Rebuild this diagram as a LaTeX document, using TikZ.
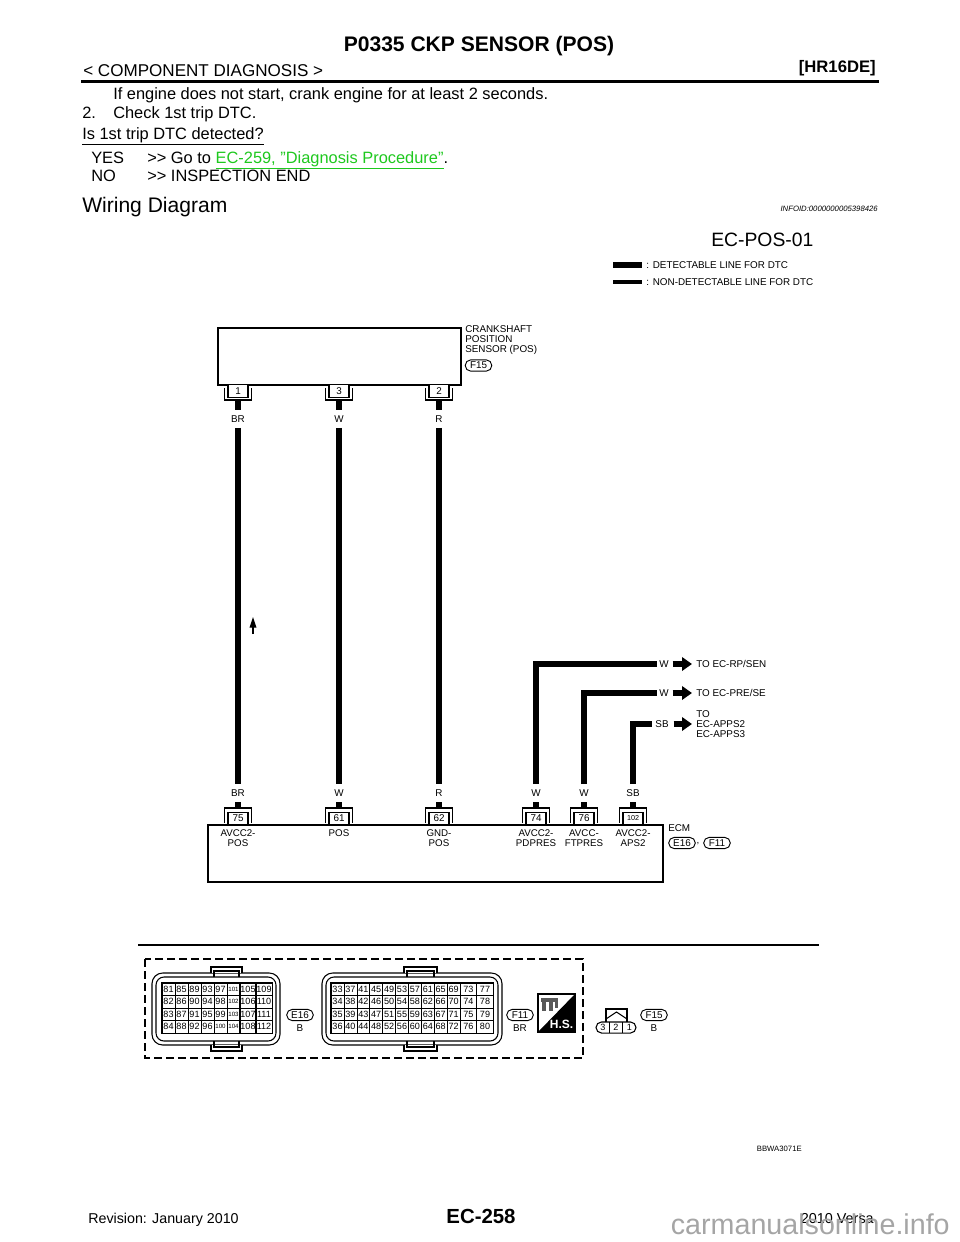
\documentclass[tikz,border=0pt]{standalone}
\usepackage{fontspec}
\setmainfont{Liberation Sans}
\usetikzlibrary{arrows.meta,shapes.misc}
\definecolor{linkgreen}{RGB}{30,200,30}
\definecolor{markgray}{RGB}{165,165,165}
\newcommand{\fsz}[1]{\fontsize{#1}{#1}\selectfont}
\tikzstyle{pagetext} = [anchor=base west, inner sep=0pt, font=\fsz{12.3}]
\tikzstyle{boxline} = [draw=black, line width=1.1pt]
\tikzstyle{wire} = [line width=5.1pt, draw=black]
\tikzstyle{bracket} = [line width=0.8pt, draw=black]
\tikzstyle{pinbox} = [draw=black, line width=0.8pt, fill=white, minimum width=15pt, minimum height=9.5pt, inner sep=0pt, font=\fsz{7.4}]
\tikzstyle{wirelabel} = [inner sep=0pt, minimum height=13pt, font=\fsz{7.4}]
\tikzstyle{difftext} = [align=left, anchor=west, inner sep=0pt, font=\fontsize{7.4}{7.5}\selectfont]
\tikzstyle{pintext} = [align=center, anchor=north, inner sep=0pt, font=\fontsize{7.3}{7.5}\selectfont]
\tikzstyle{tagbox} = [rounded rectangle, draw=black, line width=0.7pt, minimum width=20pt, minimum height=8.5pt, inner sep=0pt, font=\fsz{7.4}]
\tikzstyle{fatarrow} = [line width=3.8pt, -{Triangle[length=7.5pt,width=10pt]}]
\tikzstyle{narrowcell} = [draw=black, line width=0.5pt, minimum width=9.7pt, minimum height=9.4pt, inner sep=0pt, font=\fsz{6.8}]
\tikzstyle{widecell} = [narrowcell, minimum width=12.3pt]
\tikzstyle{shell} = [draw=black, line width=0.8pt]
\begin{document}
\begin{tikzpicture}[x=0.75pt, y=-0.75pt]
  \useasboundingbox (0,0) rectangle (960,1242);
  % page heading
  \node (title) [pagetext, anchor=base, font=\bfseries\fsz{15.8}] at (479,51) {P0335 CKP SENSOR (POS)};
  \node (chapter) [pagetext, font=\fsz{12.8}] at (83,76) {< COMPONENT DIAGNOSIS >};
  \node (engine) [pagetext, anchor=base east, font=\bfseries\fsz{12.5}] at (876,72) {[HR16DE]};
  \coordinate (ruleL) at (81,81.5);
  \coordinate (ruleR) at (879,81.5);
  \draw [line width=2pt] (ruleL) -- (ruleR);
  \node (step1) [pagetext] at (113,99) {If engine does not start, crank engine for at least 2 seconds.};
  \node (num2) [pagetext] at (82,118) {2.};
  \node (step2) [pagetext] at (113,118) {Check 1st trip DTC.};
  \node (quest) [pagetext] at (82,139) {\underline{Is 1st trip DTC detected?}};
  \node (yes) [pagetext] at (91,163) {YES};
  \node (yesgo) [pagetext] at (147,163) {>{}> Go to \textcolor{linkgreen}{\underline{EC-259, \symbol{34}Diagnosis Procedure\symbol{34}}}.};
  \node (no) [pagetext] at (91,181) {NO};
  \node (noend) [pagetext] at (147,181) {>{}> INSPECTION END};
  \node (wiring) [pagetext, font=\fsz{15.8}] at (82,212) {Wiring Diagram};
  \node (infoid) [pagetext, anchor=base east, font=\itshape\fsz{5.8}] at (878,211) {INFOID:0000000005398426};
  % legend
  \node (figno) [pagetext, font=\fsz{14.5}] at (711,246) {EC-POS-01};
  \node (legA) [pagetext, anchor=west, font=\fsz{7.4}, inner sep=3.5pt] at (641.5,265) {: DETECTABLE LINE FOR DTC};
  \node (legB) [pagetext, anchor=west, font=\fsz{7.4}, inner sep=3.5pt] at (641.5,282) {: NON-DETECTABLE LINE FOR DTC};
  \coordinate (legAs) at (613,265);
  \coordinate (legBs) at (613,282);
  \draw [line width=4pt] (legAs) -- (legA);
  \draw [line width=2.4pt] (legBs) -- (legB);
  % sensor
  \node (sensor) [boxline, minimum width=182pt, minimum height=42.7pt, inner sep=0pt] at (339.5,356.5) {};
  \node (sensorname) [difftext] at (465,340) {CRANKSHAFT\\POSITION\\SENSOR (POS)};
  \node (tagF15) [tagbox] at (478.5,365.5) {F15};
  \foreach \pinno/\px/\wname in {1/238/BR, 3/339/W, 2/439/R}{
    \draw [bracket] (\px-13.5,388) -- (\px-13.5,400) -- (\px+13.5,400) -- (\px+13.5,388);
    \node (s\pinno) [pinbox] at (\px,391) {\pinno};
    \coordinate (s\pinno b) at (\px,400);
    \node (t\pinno) [wirelabel] at (\px,419) {\wname};
    \draw [wire] (s\pinno b) -- (t\pinno);
  }
  % ECM
  \node (ecm) [boxline, minimum width=341pt, minimum height=43pt, inner sep=0pt] at (435.5,853.5) {};
  \foreach \pinno/\px/\wname/\pinname in {75/238/BR/{AVCC2-\\POS}, 61/339/W/{POS}, 62/439/R/{GND-\\POS}, 74/536/W/{AVCC2-\\PDPRES}, 76/584/W/{AVCC-\\FTPRES}, 102/633/SB/{AVCC2-\\APS2}}{
    \draw [bracket] (\px-13.5,823) -- (\px-13.5,808) -- (\px+13.5,808) -- (\px+13.5,823);
    \node (e\pinno) [pinbox] at (\px,818.5) {\ifnum\pinno>99 \fsz{5.4}\fi\pinno};
    \coordinate (e\pinno t) at (\px,808);
    \node (b\pinno) [wirelabel] at (\px,793) {\wname};
    \draw [wire] (e\pinno t) -- (b\pinno);
    \node (n\pinno) [pintext] at (\px,829) {\pinname};
  }
  \node (ecmname) [difftext] at (668,828) {ECM};
  \node (tagE16) [tagbox] at (682,843) {E16};
  \node (comma) [inner sep=0pt, font=\fsz{7.4}] at (698,844) {,};
  \node (tagF11) [tagbox] at (717,843) {F11};
  % vertical wires
  \draw [wire] (t1) -- (b75);
  \draw [wire] (t3) -- (b61);
  \draw [wire] (t2) -- (b62);
  % outgoing wires
  \node (w74) [wirelabel, minimum width=10.5pt] at (664,664) {W};
  \node (w76) [wirelabel, minimum width=10.5pt] at (664,693) {W};
  \node (w102) [wirelabel, minimum width=15pt] at (662,724) {SB};
  \draw [wire] (b74) |- (w74);
  \draw [wire] (b76) |- (w76);
  \draw [wire] (b102) |- (w102);
  \node (toA) [difftext] at (696,664) {TO EC-RP/SEN};
  \node (toB) [difftext] at (696,693) {TO EC-PRE/SE};
  \node (toC) [difftext] at (696,724) {TO\\EC-APPS2\\EC-APPS3};
  \draw [fatarrow, shorten <=1pt, shorten >=3pt] (w74) -- (toA);
  \draw [fatarrow, shorten <=1pt, shorten >=3pt] (w76) -- (toB);
  \draw [fatarrow, shorten <=1pt, shorten >=3pt] (w102) -- (toC);
  % signal direction
  \coordinate (flowtail) at (253,634);
  \coordinate (flowhead) at (253,617);
  \draw [line width=1pt, -{Triangle[length=8pt,width=5pt]}] (flowtail) -- (flowhead);
  % separator
  \coordinate (sepL) at (138,945);
  \coordinate (sepR) at (819,945);
  \draw [line width=1.1pt] (sepL) -- (sepR);
  \draw [line width=0.9pt, dash pattern=on 6pt off 3pt] (145,959) rectangle (583,1058);
  % connector shells
  \foreach \sl/\sr/\tl/\tr in {152/280/211/242, 322/502/404/437}{
    \draw [shell, rounded corners=8pt] (\sl,973) rectangle (\sr,1045);
    \draw [shell, rounded corners=6pt] (\sl+4,977) rectangle (\sr-4,1041);
    \draw [shell, fill=white] (\tl,973.3) |- (\tr,967) -- (\tr,973.3);
    \draw [shell] (\tl+3,977) |- (\tr-3,971) -- (\tr-3,977);
    \draw [shell, fill=white] (\tl,1044.7) |- (\tr,1051) -- (\tr,1044.7);
    \draw [shell] (\tl+3,1041) |- (\tr-3,1047) -- (\tr-3,1041);
  }
  % E16 pins
  \foreach \first/\cx in {81/168.5, 85/181.5, 89/194.5, 93/207.5, 97/220.5, 101/233.5}{
    \foreach \row in {0,...,3}{
      \pgfmathtruncatemacro{\num}{\first+\row}
      \node (c\num) [narrowcell] at (\cx,989.25+12.5*\row) {\ifnum\num>99 \fsz{4.6}\fi\num};
    }
  }
  \foreach \first/\cx in {105/248, 109/264}{
    \foreach \row in {0,...,3}{
      \pgfmathtruncatemacro{\num}{\first+\row}
      \node (c\num) [widecell] at (\cx,989.25+12.5*\row) {\num};
    }
  }
  \draw [line width=1pt] (c81.north west) rectangle (c112.south east);
  % F11 pins
  \foreach \first/\cx in {33/337.5, 37/350.4, 41/363.3, 45/376.2, 49/389.1, 53/402, 57/414.9, 61/427.8, 65/440.7, 69/453.6}{
    \foreach \row in {0,...,3}{
      \pgfmathtruncatemacro{\num}{\first+\row}
      \node (c\num) [narrowcell] at (\cx,989.25+12.5*\row) {\num};
    }
  }
  \foreach \first/\cx in {73/468.4, 77/485}{
    \foreach \row in {0,...,3}{
      \pgfmathtruncatemacro{\num}{\first+\row}
      \node (c\num) [widecell] at (\cx,989.25+12.5*\row) {\num};
    }
  }
  \draw [line width=1pt] (c33.north west) rectangle (c80.south east);
  \node (lowE16) [tagbox] at (300,1015) {E16};
  \node (colE16) [inner sep=0pt, font=\fsz{7.4}] at (300,1028) {B};
  \node (lowF11) [tagbox] at (520,1015) {F11};
  \node (colF11) [inner sep=0pt, font=\fsz{7.4}] at (520,1028) {BR};
  % harness side mark
  \draw [line width=0.8pt] (538,994) rectangle (575,1032);
  \fill (575,994) -- (575,1032) -- (538,1032) -- cycle;
  \fill [black!65] (541,998) rectangle (558,1002);
  \fill [black!65] (542,1002) rectangle (546,1011);
  \fill [black!65] (549,1002) rectangle (553,1011);
  \fill [black!65] (555,1002) rectangle (558,1008);
  \node (hs) [inner sep=0pt, text=white, font=\bfseries\fsz{9}] at (561.5,1024) {H.S.};
  % F15 connector
  \node (threepin) [rounded rectangle, draw=black, line width=0.8pt, minimum width=30pt, minimum height=8.3pt, inner sep=0pt] at (616,1027.5) {};
  \draw [bracket] (609.5,1022) -- (609.5,1033);
  \draw [bracket] (622.5,1022) -- (622.5,1033);
  \draw [bracket] (606,1022) |- (627,1009) -- (627,1022);
  \draw [bracket] (606,1019) -- (616.5,1012) -- (627,1019);
  \node (p3) [inner sep=0pt, font=\fsz{6.8}] at (603,1027.5) {3};
  \node (p2) [inner sep=0pt, font=\fsz{6.8}] at (616,1027.5) {2};
  \node (p1) [inner sep=0pt, font=\fsz{6.8}] at (629.5,1027.5) {1};
  \node (lowF15) [tagbox] at (654,1015) {F15};
  \node (colF15) [inner sep=0pt, font=\fsz{7.4}] at (654,1028) {B};
  % page foot
  \node (figcode) [pagetext, anchor=base east, font=\fsz{5.8}] at (802,1151) {BBWA3071E};
  \node (rev) [pagetext, font=\fsz{10.7}] at (88,1223) {Revision: January 2010};
  \node (pageno) [pagetext, anchor=base, font=\bfseries\fsz{15.3}] at (481,1223) {EC-258};
  \node (model) [pagetext, anchor=base east, font=\fsz{10.8}] at (874,1223) {2010 Versa};
  \node (mark) [pagetext, anchor=base east, text=markgray, font=\fsz{21.5}] at (950,1234) {carmanualsonline.info};
\end{tikzpicture}
\end{document}
